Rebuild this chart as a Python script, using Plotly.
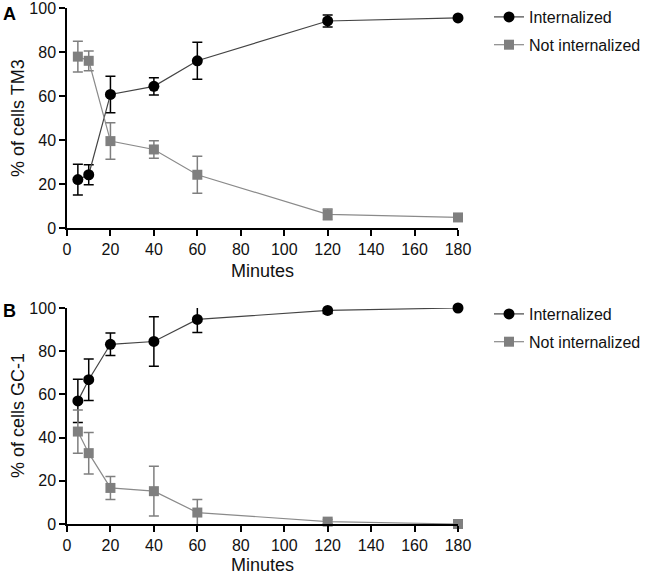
import plotly.graph_objects as go

minutes = [5, 10, 20, 40, 60, 120, 180]

tm3_int = [22.0, 24.2, 60.7, 64.4, 76.0, 94.1, 95.5]
tm3_int_err = [7.0, 4.5, 8.3, 3.9, 8.4, 2.7, 0.0]
tm3_not = [77.9, 76.0, 39.5, 35.7, 24.2, 6.2, 4.8]
tm3_not_err = [7.0, 4.5, 8.3, 4.0, 8.4, 2.4, 0.0]

gc1_int = [57.0, 66.8, 83.2, 84.5, 94.7, 98.9, 100.0]
gc1_int_err = [10.0, 9.6, 5.2, 11.5, 6.0, 1.5, 0.0]
gc1_not = [42.8, 32.8, 16.7, 15.2, 5.3, 1.1, 0.0]
gc1_not_err = [10.0, 9.6, 5.3, 11.5, 6.0, 1.0, 0.0]

series_names = ["Internalized", "Not internalized"]
y_titles = ["% of cells TM3", "% of cells GC-1"]
x_title = "Minutes"
x_ticks = [0, 20, 40, 60, 80, 100, 120, 140, 160, 180]
y_ticks = [0, 20, 40, 60, 80, 100]

FONT = "Arial, Liberation Sans, sans-serif"
BLACK = "#000000"
GREY = "#7f7f7f"
TXT = "#111111"

W, H = 646, 574

fig = go.Figure()

def add(x, y, e, name, panel, color, linecolor, symbol, size, legend, group):
    sfx = "" if panel == 1 else "2"
    fig.add_trace(go.Scatter(
        x=x, y=y, name=name, mode="lines+markers",
        xaxis="x" + sfx, yaxis="y" + sfx, legend=legend, legendgroup=group,
        line=dict(color=linecolor, width=1.2),
        marker=dict(color=color, symbol=symbol, size=size, line=dict(width=0)),
        error_y=dict(type="data", array=e, visible=True, color=color,
                     thickness=1.5, width=5),
        cliponaxis=False,
    ))

add(minutes, tm3_int, tm3_int_err, series_names[0], 1, BLACK, "#444444", "circle", 11, "legend", "a1")
add(minutes, tm3_not, tm3_not_err, series_names[1], 1, GREY, "#8a8a8a", "square", 10, "legend", "a2")
add(minutes, gc1_int, gc1_int_err, series_names[0], 2, BLACK, "#444444", "circle", 11, "legend2", "b1")
add(minutes, gc1_not, gc1_not_err, series_names[1], 2, GREY, "#8a8a8a", "square", 10, "legend2", "b2")

x0, x1 = 67 / W, 458 / W
def ydom(top, bot):
    return [1 - bot / H, 1 - top / H]

axis_common = dict(
    showgrid=False, zeroline=False, showline=True, linecolor=BLACK, linewidth=1.5,
    ticks="outside", ticklen=6, tickwidth=1.5, tickcolor=BLACK,
    tickfont=dict(family=FONT, size=16, color=TXT), automargin=False,
    ticklabeloverflow="allow",
)

xax = dict(axis_common, range=[0, 180], tickvals=x_ticks, domain=[x0, x1])
yax_c = dict(axis_common, range=[0, 100], tickvals=y_ticks)

legend_common = dict(
    font=dict(family=FONT, size=16, color=TXT),
    bgcolor="rgba(0,0,0,0)", xanchor="right", yanchor="top",
    xref="paper", yref="paper",
    tracegroupgap=4, itemwidth=30, x=1.0,
)

A_TOP, A_BOT = 8, 228
B_TOP, B_BOT = 308, 524

def ann_text(text, x, y, size, bold=False, angle=0, xa="left", ya="top"):
    return dict(text=("<b>%s</b>" % text) if bold else text, x=x / W, y=1 - y / H,
                xref="paper", yref="paper", xanchor=xa, yanchor=ya, showarrow=False,
                textangle=angle, font=dict(family=FONT, size=size, color=BLACK if bold else TXT))

xc = (67 + 458) / 2

fig.update_layout(
    width=W, height=H,
    margin=dict(l=0, r=0, t=0, b=0),
    paper_bgcolor="white", plot_bgcolor="white",
    showlegend=True,
    xaxis=dict(xax, anchor="y"),
    yaxis=dict(yax_c, domain=ydom(A_TOP, A_BOT), anchor="x"),
    xaxis2=dict(xax, anchor="y2"),
    yaxis2=dict(yax_c, domain=ydom(B_TOP, B_BOT), anchor="x2"),
    legend=dict(legend_common, y=1.0),
    legend2=dict(legend_common, y=1 - 297 / H),
    annotations=[
        ann_text("A", 1, 2, 18, bold=True),
        ann_text("B", 1, 299, 18, bold=True),
        ann_text(y_titles[0], 18, (A_TOP + A_BOT) / 2, 18, angle=-90, xa="center", ya="middle"),
        ann_text(y_titles[1], 18, (B_TOP + B_BOT) / 2, 18, angle=-90, xa="center", ya="middle"),
        ann_text(x_title, xc, 271, 18, xa="center", ya="middle"),
        ann_text(x_title, xc, 565, 18, xa="center", ya="middle"),
    ],
)

fig.write_html("out.html")
